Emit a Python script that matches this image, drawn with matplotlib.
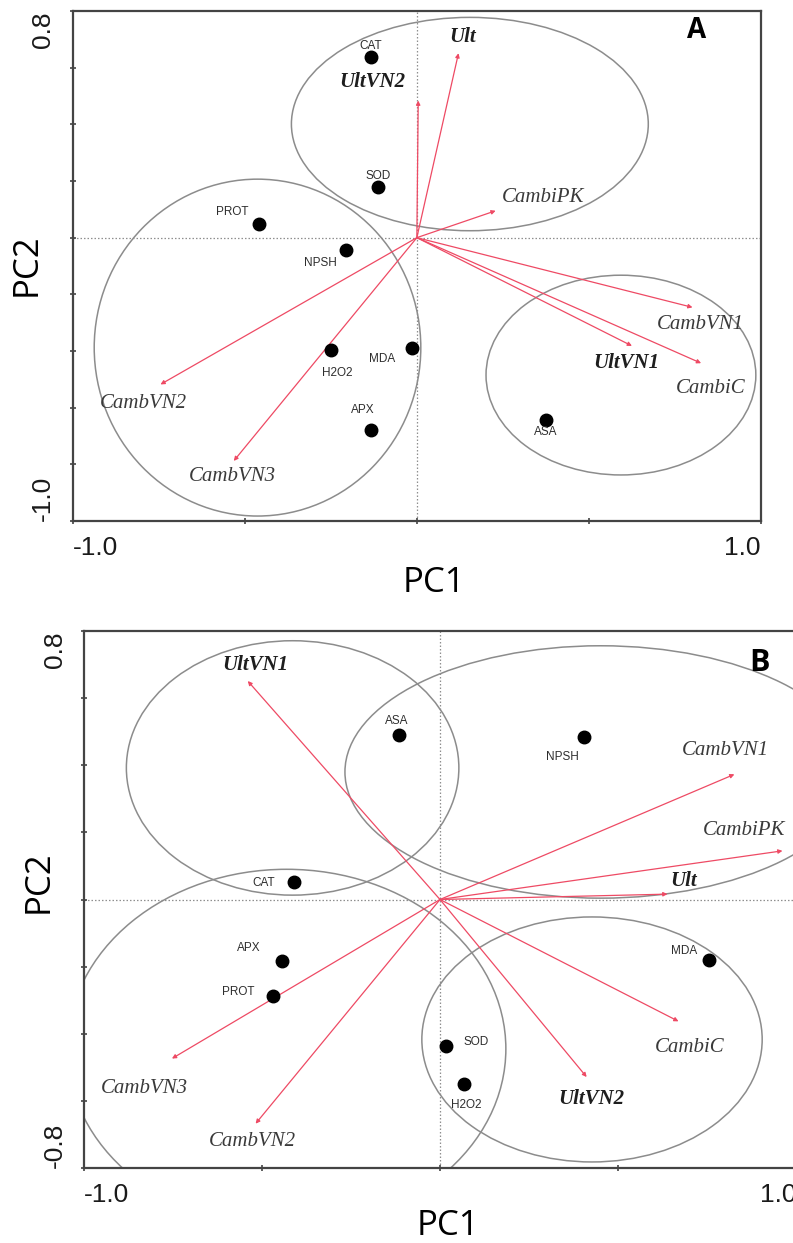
import matplotlib
matplotlib.use("Agg")
import matplotlib.pyplot as plt
from matplotlib.patches import Ellipse

# ---------------- Panel A data ----------------
a_vars = ["CAT", "SOD", "PROT", "NPSH", "H2O2", "MDA", "APX", "ASA"]
a_var_pc1 = [-0.132, -0.113, -0.459, -0.206, -0.250, -0.015, -0.132, 0.375]
a_var_pc2 = [0.636, 0.178, 0.047, -0.043, -0.396, -0.388, -0.680, -0.645]

a_trt = ["Ult", "UltVN2", "CambiPK", "CambVN1", "UltVN1", "CambiC", "CambVN2", "CambVN3"]
a_trt_pc1 = [0.121, 0.004, 0.229, 0.801, 0.625, 0.826, -0.745, -0.532]
a_trt_pc2 = [0.651, 0.484, 0.095, -0.246, -0.382, -0.443, -0.518, -0.788]

a_grp_cx = [0.154, -0.463, 0.593]
a_grp_cy = [0.401, -0.388, -0.485]
a_grp_w = [1.037, 0.949, 0.784]
a_grp_h = [0.753, 1.189, 0.705]

# ---------------- Panel B data ----------------
b_vars = ["ASA", "NPSH", "CAT", "APX", "PROT", "MDA", "SOD", "H2O2"]
b_var_pc1 = [-0.116, 0.405, -0.410, -0.443, -0.469, 0.756, 0.018, 0.068]
b_var_pc2 = [0.491, 0.484, 0.052, -0.182, -0.288, -0.179, -0.437, -0.551]

b_trt = ["UltVN1", "CambVN1", "CambiPK", "Ult", "CambiC", "UltVN2", "CambVN2", "CambVN3"]
b_trt_pc1 = [-0.540, 0.827, 0.962, 0.639, 0.670, 0.412, -0.518, -0.753]
b_trt_pc2 = [0.651, 0.373, 0.145, 0.016, -0.363, -0.529, -0.668, -0.474]

b_grp_cx = [-0.414, 0.451, -0.431, 0.427]
b_grp_cy = [0.392, 0.380, -0.445, -0.417]
b_grp_w = [0.934, 1.436, 1.232, 0.956]
b_grp_h = [0.758, 0.752, 1.070, 0.730]

# ---------------- layout (label placement, data coords) ----------------
a_var_lab = [(-0.135, 0.678), (-0.113, 0.219), (-0.537, 0.091), (-0.279, -0.088),
             (-0.231, -0.477), (-0.100, -0.430), (-0.157, -0.608), (0.375, -0.686)]
a_trt_lab = [(0.132, 0.707), (-0.129, 0.550), (0.368, 0.142), (0.824, -0.308),
             (0.610, -0.443), (0.853, -0.531), (-0.794, -0.585), (-0.537, -0.842)]
b_var_lab = [(-0.121, 0.532), (0.344, 0.426), (-0.494, 0.048), (-0.537, -0.145),
             (-0.568, -0.276), (0.685, -0.154), (0.102, -0.426), (0.074, -0.611)]
b_trt_lab = [(-0.518, 0.700), (0.801, 0.444), (0.855, 0.206), (0.685, 0.054),
             (0.702, -0.440), (0.426, -0.593), (-0.527, -0.721), (-0.831, -0.562)]

W, H = 793.0, 1243.0
ARROW = "#ee4a64"
SPINE = "#444444"
ELL = "#8c8c8c"
TXT = "#2e2e2e"

fig = plt.figure(figsize=(W / 100, H / 100), dpi=100)
axA = fig.add_axes([72.7 / W, 1 - 521 / H, (761 - 72.7) / W, 510 / H])
axB = fig.add_axes([84 / W, 1 - 1168 / H, (796 - 84) / W, 537 / H])


def draw_panel(ax, ylim, yticks, vars_, vx, vy, vlab, trt, tx, ty, tlab,
               gcx, gcy, gw, gh, tag, tag_xy, tag_size):
    ax.set_xlim(-1.0, 1.0)
    ax.set_ylim(*ylim)
    ax.axhline(0, color="#8f8f8f", lw=0.9, ls=(0, (1.2, 1.6)), zorder=1)
    ax.axvline(0, color="#8f8f8f", lw=0.9, ls=(0, (1.2, 1.6)), zorder=1)

    for cx, cy, w, h in zip(gcx, gcy, gw, gh):
        ax.add_patch(Ellipse((cx, cy), w, h, fill=False, ec=ELL, lw=1.1, zorder=2))

    for name, x, y, (lx, ly) in zip(trt, tx, ty, tlab):
        ax.annotate("", xy=(x, y), xytext=(0, 0),
                    arrowprops=dict(arrowstyle="-|>", color=ARROW, lw=0.9,
                                    mutation_scale=6, shrinkA=0, shrinkB=0),
                    zorder=3)
        bold = name.startswith("Ult")
        ax.text(lx, ly, name, family="Liberation Serif", style="italic",
                weight="bold" if bold else "normal", fontsize=15,
                color="#1e1e1e" if bold else "#3a3a3a",
                ha="center", va="center", zorder=5)

    ax.plot(vx, vy, "o", color="black", ms=9, zorder=4, clip_on=False)
    for name, (lx, ly) in zip(vars_, vlab):
        ax.text(lx, ly, name, family="Liberation Sans", fontsize=8.5,
                color=TXT, ha="center", va="center", zorder=5)

    ax.set_xticks([-1.0, -0.5, 0.0, 0.5, 1.0], ["-1.0", "", "", "", "1.0"])
    ylabels = ["" for _ in yticks]
    ylabels[0] = f"{yticks[0]:.1f}"
    ylabels[-1] = f"{yticks[-1]:.1f}"
    ax.set_yticks(yticks, ylabels)
    ax.tick_params(axis="both", direction="inout", length=5, width=1.2,
                   color=SPINE, labelsize=19, labelcolor="#1a1a1a")
    ax.tick_params(axis="x", pad=8)
    ax.tick_params(axis="y", pad=10)
    for lbl in ax.get_xticklabels() + ax.get_yticklabels():
        lbl.set_family("Liberation Sans")
    xt = ax.xaxis.get_major_ticks()
    xt[0].label1.set_ha("left")
    xt[-1].label1.set_ha("right")
    yt = ax.yaxis.get_major_ticks()
    for t in yt:
        t.label1.set_rotation(90)
        t.label1.set_ha("right")
    yt[0].label1.set_va("bottom")
    yt[-1].label1.set_va("top")

    for s in ax.spines.values():
        s.set_color(SPINE)
        s.set_linewidth(1.6)

    ax.text(tag_xy[0], tag_xy[1], tag, family="Open Sans", weight="bold",
            fontsize=tag_size, color="black", ha="center", va="center", zorder=6)


a_yticks = [round(-1.0 + 0.2 * i, 1) for i in range(10)]
b_yticks = [round(-0.8 + 0.2 * i, 1) for i in range(9)]

draw_panel(axA, (-1.0, 0.8), a_yticks, a_vars, a_var_pc1, a_var_pc2, a_var_lab,
           a_trt, a_trt_pc1, a_trt_pc2, a_trt_lab,
           a_grp_cx, a_grp_cy, a_grp_w, a_grp_h, "A", (0.813, 0.732), 20)
draw_panel(axB, (-0.8, 0.8), b_yticks, b_vars, b_var_pc1, b_var_pc2, b_var_lab,
           b_trt, b_trt_pc1, b_trt_pc2, b_trt_lab,
           b_grp_cx, b_grp_cy, b_grp_w, b_grp_h, "B", (0.898, 0.706), 22)

# axis titles
lab_kw = dict(family="Open Sans", fontsize=25, color="black", ha="center", va="center")
fig.text(434 / W, 1 - 583 / H, "PC1", **lab_kw)
fig.text(27 / W, 1 - 265 / H, "PC2", rotation=90, **lab_kw)
fig.text(448 / W, 1 - 1226 / H, "PC1", **lab_kw)
fig.text(39 / W, 1 - 882 / H, "PC2", rotation=90, **lab_kw)

fig.savefig("out.png", dpi=100, facecolor="white")
